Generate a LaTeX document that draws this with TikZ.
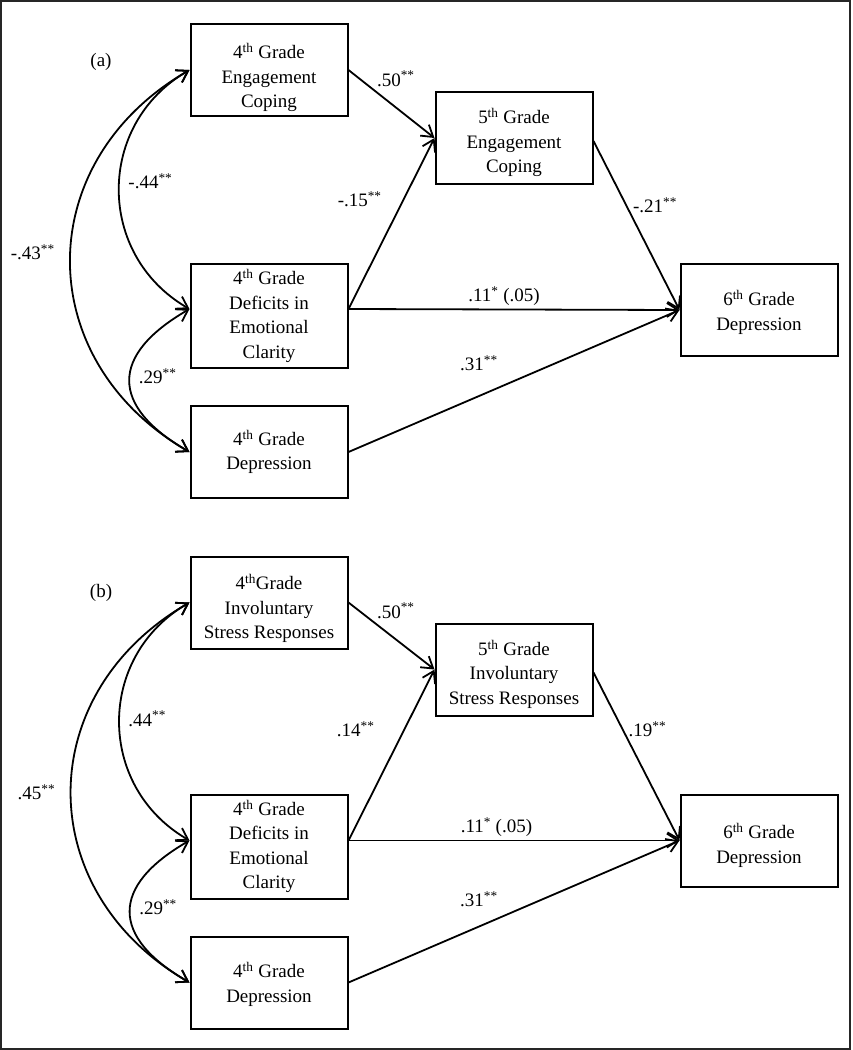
\documentclass[tikz,border=0pt]{standalone}
\usepackage{fontspec}
\setmainfont{Liberation Serif}
\usetikzlibrary{arrows.meta, positioning}
\newcommand{\boxwidth}{157pt}
\newcommand{\supth}{\textsuperscript{th}}
\newcommand{\twostar}{\textsuperscript{**}}
\newcommand{\onestar}{\textsuperscript{*}}
% Strut that pushes the first line of a box down
\newcommand{\topgap}[1]{\rule{0pt}{#1pt}}
\tikzset{
    %Define standard arrow tip
    >={Straight Barb[length=11pt,width=14pt]},
    %Define style for boxes
    kasse/.style={
           rectangle,
           draw=black, line width=2pt,
           inner sep=3pt,
           minimum width=\boxwidth,
           minimum height=92pt,
           align=center},
    % Define arrow style
    linje/.style={
           ->,
           line width=1.8pt},
    % Define style for the curved two-headed arrows
    bue/.style={
           <->,
           line width=1.8pt,
           out=210, in=150}
}

\begin{document}
\begin{tikzpicture}[x=1pt, y=1pt, font=\fontsize{19}{24.5}\selectfont, node distance=0pt]

% Style for path coefficients
\tikzstyle{koef}=[inner sep=3pt]

% Size of the picture and frame
\useasboundingbox (0,0) rectangle (852,-1050);
\draw[line width=1.8pt, black!85] (1,-1) rectangle (850,-1049);

% Panel (a)
\node (pa) at (101,-62) {(a)};
\node[kasse] (A1) at (269,-70) {\topgap{31}4\supth{} Grade\\Engagement\\Coping};
\node[kasse, minimum height=104pt] (A2) [below=146pt of A1] {4\supth{} Grade\\Deficits in\\Emotional\\Clarity};
\node[kasse] (A3) [below=36pt of A2] {4\supth{} Grade\\Depression};
\node[kasse] (A5) [below right=21pt and 86pt of A1.east] {\topgap{25}5\supth{} Grade\\Engagement\\Coping};
\node[kasse] (A6) [below right=0pt and 331pt of A2.north east] {\topgap{20}6\supth{} Grade\\Depression};
\coordinate (A2o) at ([yshift=7pt]A2.east);
\coordinate (A2i) at ([yshift=7pt]A2.west);
\coordinate (A5o) at ([yshift=-3pt]A5.east);

\path 
% paths between the boxes
(A1.east) edge[linje] node[koef, pos=0.55, above=17pt] {.50\twostar} (A5.west)
(A2o) edge[linje] node[koef, pos=0.64, left=18pt] {-.15\twostar} (A5.west)
(A2o) edge[linje] node[koef, pos=0.47, above] {.11\onestar{} (.05)} (A6.west)
(A3.east) edge[linje] node[koef, pos=0.394, above=21pt] {.31\twostar} (A6.west)
(A5o) edge[linje] node[koef, pos=0.38, right=3pt] {-.21\twostar} (A6.west)
% correlations on the left
(A1.west) edge[bue, looseness=1.16] node[koef, pos=0.47, right=5pt] {-.44\twostar} (A2i)
(A2i) edge[bue, looseness=1.65] node[koef, pos=0.47, right=5pt] {.29\twostar} (A3.west)
(A1.west) edge[bue, looseness=1.23] node[koef, pos=0.48, left=12pt] {-.43\twostar} (A3.west);

% Panel (b)
\node (pb) at (101,-593) {(b)};
\node[kasse] (B1) at (269,-602.5) {\topgap{28}4\supth Grade\\Involuntary\\Stress Responses};
\node[kasse, minimum height=104pt] (B2) [below=144pt of B1] {4\supth{} Grade\\Deficits in\\Emotional\\Clarity};
\node[kasse] (B3) [below=36pt of B2] {\topgap{19}4\supth{} Grade\\Depression};
\node[kasse] (B5) [below right=20pt and 86pt of B1.east] {\topgap{25}5\supth{} Grade\\Involuntary\\Stress Responses};
\node[kasse] (B6) [below right=0pt and 331pt of B2.north east] {\topgap{25}6\supth{} Grade\\Depression};
\coordinate (B2o) at ([yshift=6pt]B2.east);
\coordinate (B2i) at ([yshift=6pt]B2.west);
\coordinate (B5o) at ([yshift=-3pt]B5.east);

\path 
% paths between the boxes
(B1.east) edge[linje] node[koef, pos=0.55, above=17pt] {.50\twostar} (B5.west)
(B2o) edge[linje] node[koef, pos=0.65, left=26pt] {.14\twostar} (B5.west)
(B2o) edge[linje] node[koef, pos=0.447, above] {.11\onestar{} (.05)} (B6.west)
(B3.east) edge[linje] node[koef, pos=0.394, above=16pt] {.31\twostar} (B6.west)
(B5o) edge[linje] node[koef, pos=0.34, right=2pt] {.19\twostar} (B6.west)
% correlations on the left
(B1.west) edge[bue, looseness=1.16] node[koef, pos=0.49, right=5pt] {.44\twostar} (B2i)
(B2i) edge[bue, looseness=1.65] node[koef, pos=0.47, right=5pt] {.29\twostar} (B3.west)
(B1.west) edge[bue, looseness=1.23] node[koef, pos=0.5, left=12pt] {.45\twostar} (B3.west);

\end{tikzpicture}
\end{document}
